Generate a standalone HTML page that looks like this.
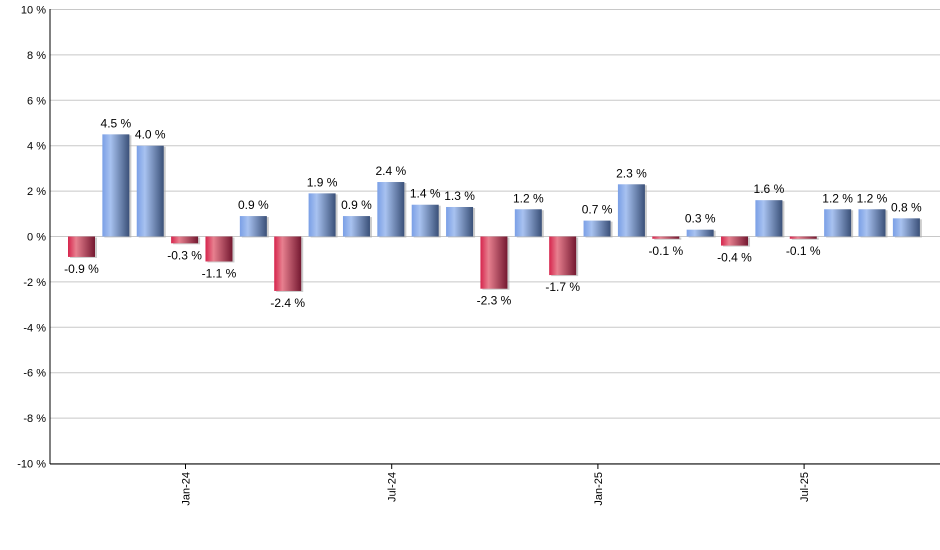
<!DOCTYPE html><html><head><style>body{margin:0;background:#fff}svg{display:block;font-family:"Liberation Sans",Arial,sans-serif}</style></head><body>
<svg id="s" width="940" height="550" xmlns="http://www.w3.org/2000/svg">
<defs>
<linearGradient id="gb" x1="0" x2="1" y1="0" y2="0"><stop offset="0" stop-color="#7a9fe6"/><stop offset="0.3" stop-color="#a8c2f0"/><stop offset="1" stop-color="#3a5078"/></linearGradient>
<linearGradient id="gr" x1="0" x2="1" y1="0" y2="0"><stop offset="0" stop-color="#d6244c"/><stop offset="0.3" stop-color="#e7808f"/><stop offset="1" stop-color="#741830"/></linearGradient>
</defs>
<g id="g"></g>
</svg>
<script>
var g=document.getElementById('g'),h='';
function y(v){return 236.5-v*22.7;}
for(var v=-10;v<=10;v+=2){var yy=y(v);h+='<line x1="50" x2="940" y1="'+yy+'" y2="'+yy+'" stroke="#c8c8c8"/>';h+='<text x="46" y="'+(yy+4)+'" font-size="11" text-anchor="end" fill="#000">'+v+' %</text>';}
var d=[-0.9,4.5,4.0,-0.3,-1.1,0.9,-2.4,1.9,0.9,2.4,1.4,1.3,-2.3,1.2,-1.7,0.7,2.3,-0.1,0.3,-0.4,1.6,-0.1,1.2,1.2,0.8];
for(var i=0;i<d.length;i++){var x=68+i*34.37,v=d[i],t=y(Math.max(v,0)),b=y(Math.min(v,0)),hh=Math.max(b-t,1.5);
h+='<rect x="'+(x+2)+'" y="'+(t+1)+'" width="27" height="'+hh+'" fill="#aaa" opacity="0.6"/>';
h+='<rect x="'+x+'" y="'+t+'" width="27" height="'+hh+'" fill="url(#'+(v<0?'gr':'gb')+')"/>';
var ly=v<0?b+16:t-7;h+='<text x="'+(x+13.5)+'" y="'+ly+'" font-size="12" text-anchor="middle" fill="#000">'+v.toFixed(1)+' %</text>';}
h+='<line x1="50" x2="50" y1="9" y2="464" stroke="#000"/><line x1="50" x2="940" y1="464" y2="464" stroke="#000"/>';
var tk=[[185.5,'Jan-24'],[391.7,'Jul-24'],[597.9,'Jan-25'],[804.1,'Jul-25']];
tk.forEach(function(k){h+='<line x1="'+k[0]+'" x2="'+k[0]+'" y1="464" y2="469" stroke="#000"/><text transform="translate('+(k[0]+4)+',472) rotate(-90)" font-size="11" text-anchor="end" fill="#000">'+k[1]+'</text>';});
g.innerHTML=h;
</script>
</body></html>
